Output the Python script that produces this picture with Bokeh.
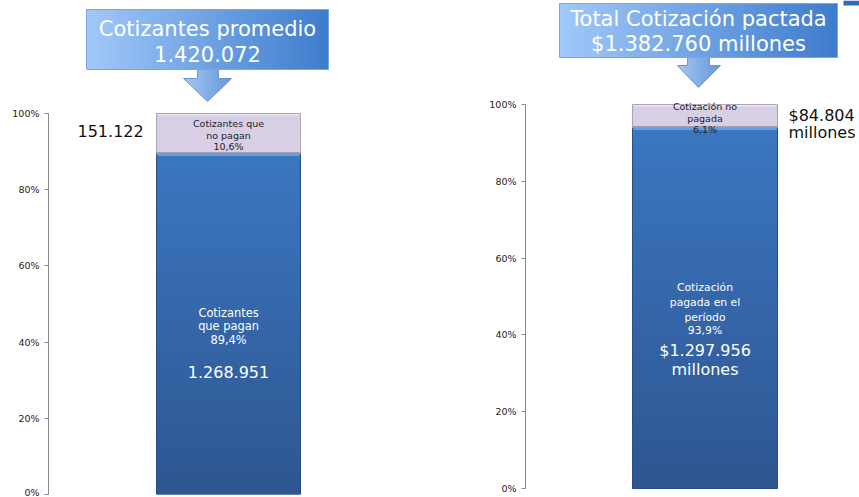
import numpy as np
from bokeh.plotting import figure
from bokeh.layouts import row
from bokeh.models import Range1d, FixedTicker, Label
from bokeh.embed import file_html
from bokeh.resources import INLINE

# ---------------- data ----------------
left_title = "Cotizantes promedio"
left_total = 1420072
left_shares = [0.894, 0.106]          # paga, no paga
left_counts = [1268951, 151122]

right_title = "Total Cotización pactada"
right_total = 1382760                 # millones
right_shares = [0.939, 0.061]         # pagada, no pagada
right_amounts = [1297956, 84804]      # millones

tick_values = [0, 0.2, 0.4, 0.6, 0.8, 1.0]
tick_labels = ["0%", "20%", "40%", "60%", "80%", "100%"]


def fmt_num(n):
    return f"{n:,}".replace(",", ".")


def fmt_pct(v):
    return f"{v * 100:.1f}".replace(".", ",") + "%"


FONT = "DejaVu Sans"
H = 497
BOTTOM_PAD = 3
FRAME_BOTTOM = H - BOTTOM_PAD   # page y of frame bottom


def lerp(c0, c1, t):
    return "#%02x%02x%02x" % tuple(int(round(a + (b - a) * t)) for a, b in zip(c0, c1))


def make_panel(width, frame_left, zero_px, hundred_px):
    scale = (zero_px - hundred_px)  # px per unit
    start = -(FRAME_BOTTOM - zero_px) / scale
    end = start + FRAME_BOTTOM / scale
    p = figure(width=width, height=H, output_backend="svg", toolbar_location=None,
               x_axis_location=None, y_axis_location="left",
               min_border_left=frame_left, min_border_right=0, min_border_top=0,
               min_border_bottom=BOTTOM_PAD,
               x_range=Range1d(0, width - frame_left),
               y_range=Range1d(start, end))
    p.grid.visible = False
    p.outline_line_color = None
    ax = p.yaxis[0]
    ax.ticker = FixedTicker(ticks=tick_values)
    ax.major_label_overrides = {v: l for v, l in zip(tick_values, tick_labels)}
    ax.bounds = (0, 1)
    ax.axis_line_color = "#8a8a8a"
    ax.major_tick_line_color = "#8a8a8a"
    ax.major_tick_out = 4
    ax.major_tick_in = 0
    ax.minor_tick_line_color = None
    ax.major_label_standoff = 5
    ax.major_label_text_font = FONT
    ax.major_label_text_font_size = "9.5px"
    ax.major_label_text_color = "#222222"
    return p, scale


def add_label(p, x, y, text, size, color, align="center"):
    p.add_layout(Label(x=x, y=y, text=text, text_align=align, text_baseline="middle",
                       text_font=FONT, text_font_size=size, text_color=color))


def draw_callout(p, X, Y, box, shaft, head, tip, lines, line_ys, text_cx):
    bx0, by0, bx1, by1 = box
    sx0, sx1 = shaft
    hx0, hx1, hy = head
    tx, ty = tip
    # arrow with gradient strips
    xs = np.arange(hx0, hx1, 1.0)
    half = (hx1 - hx0) / 2.0
    lefts, rights, tops, bottoms, cols = [], [], [], [], []
    for x in xs:
        xc = x + 0.5
        top_px = by1 if (sx0 <= xc <= sx1) else hy
        bot_px = hy + (ty - hy) * max(0.0, 1 - abs(xc - tx) / half)
        lefts.append(X(x)); rights.append(X(x + 1.3))
        tops.append(Y(top_px)); bottoms.append(Y(bot_px))
        cols.append(lerp((155, 193, 243), (84, 138, 212), (xc - hx0) / (hx1 - hx0)))
    p.quad(left=lefts, right=rights, top=tops, bottom=bottoms, fill_color=cols, line_color=None)
    px = [sx0, sx0, hx0, tx, hx1, sx1, sx1]
    py = [by1, hy, hy, ty, hy, hy, by1]
    p.patch([X(v) for v in px], [Y(v) for v in py], fill_color=None,
            line_color="#6b98d6", line_width=1)
    # box with horizontal gradient
    n = int((bx1 - bx0) / 2)
    edges = np.linspace(bx0, bx1, n + 1)
    cols = [lerp((162, 200, 249), (62, 124, 204), (i + 0.5) / n) for i in range(n)]
    rr = [min(e + 0.8, bx1) for e in edges[1:]]
    p.quad(left=[X(e) for e in edges[:-1]], right=[X(e) for e in rr],
           top=Y(by0), bottom=Y(by1), fill_color=cols, line_color=None)
    p.quad(left=X(bx0), right=X(bx1), top=Y(by0), bottom=Y(by1),
           fill_color=None, line_color="#7ba5dd", line_width=1)
    for t, ly in zip(lines, line_ys):
        add_label(p, X(text_cx), Y(ly), t, "21px", "white")


def draw_bar(p, xc, w, shares, v_per_px):
    paid, unpaid = shares
    top_paid = paid
    top_all = paid + unpaid
    # paid segment: base bar plus vertical gradient
    p.vbar(x=[xc], width=w, bottom=[0], top=[top_paid], fill_color="#34669f", line_color=None)
    n = 60
    edges = np.linspace(0, top_paid, n + 1)
    cols = [lerp((46, 86, 144), (59, 118, 193), (i + 0.5) / n) for i in range(n)]
    p.quad(left=xc - w / 2, right=xc + w / 2, bottom=edges[:-1],
           top=[min(e + 0.6 * v_per_px, top_paid) for e in edges[1:]],
           fill_color=cols, line_color=None)
    p.vbar(x=[xc], width=w, bottom=[0], top=[top_paid], fill_color=None,
           line_color="#2b4e80", line_width=1)
    # unpaid segment
    p.vbar(x=[xc], width=w, bottom=[top_paid], top=[top_all], fill_color="#d8cfe5",
           line_color="#aaa4b6", line_width=1)
    p.segment(x0=[xc - w / 2 + 1], x1=[xc + w / 2 - 1], y0=[top_all - 1.2 * v_per_px],
              y1=[top_all - 1.2 * v_per_px], line_color="#ece8f3", line_width=1.5)
    p.segment(x0=[xc - w / 2], x1=[xc + w / 2], y0=[top_paid + 0.8 * v_per_px],
              y1=[top_paid + 0.8 * v_per_px], line_color="#8e8c98", line_width=1.5)
    p.segment(x0=[xc - w / 2 + 1], x1=[xc + w / 2 - 1], y0=[top_paid - 1.2 * v_per_px],
              y1=[top_paid - 1.2 * v_per_px], line_color="#66a3ec", line_width=1.6)


# ---------------- left panel ----------------
L_FRAME_LEFT = 48
pL, sL = make_panel(430, L_FRAME_LEFT, 494, 113)
XL = lambda px: px - L_FRAME_LEFT
YL = lambda py: (494 - py) / sL

draw_bar(pL, XL(228), 144, left_shares, 1.0 / sL)
draw_callout(pL, XL, YL, box=(86, 9, 328, 69), shaft=(197, 218), head=(183, 231, 78),
             tip=(207, 101), lines=[left_title, fmt_num(left_total)], line_ys=[28, 53],
             text_cx=207)

for t, yr in zip(["Cotizantes que", "no pagan", fmt_pct(left_shares[1])], [123, 134.5, 146]):
    add_label(pL, XL(228), YL(yr), t, "9.5px", "#1e1e1e")
for t, yr in zip(["Cotizantes", "que pagan", fmt_pct(left_shares[0])], [312, 325.5, 339]):
    add_label(pL, XL(228), YL(yr), t, "11.4px", "white")
add_label(pL, XL(228), YL(371), fmt_num(left_counts[0]), "16px", "white")
add_label(pL, XL(77), YL(130), fmt_num(left_counts[1]), "16px", "#111111", align="left")

# ---------------- right panel ----------------
R_PAGE_LEFT = 430
R_FRAME_LEFT = 525
pR, sR = make_panel(429, R_FRAME_LEFT - R_PAGE_LEFT, 488, 104)
XR = lambda px: px - R_FRAME_LEFT
YR = lambda py: (488 - py) / sR

draw_bar(pR, XR(704.5), 145, right_shares, 1.0 / sR)
draw_callout(pR, XR, YR, box=(559, 3, 837, 57), shaft=(687, 709), head=(677, 720, 65),
             tip=(698, 87), lines=[right_title, "$" + fmt_num(right_total) + " millones"],
             line_ys=[18, 43], text_cx=698)

for t, yr in zip(["Cotización no", "pagada", fmt_pct(right_shares[1])], [106, 117.5, 129]):
    add_label(pR, XR(704.5), YR(yr), t, "9.5px", "#1e1e1e")
for t, yr in zip(["Cotización", "pagada en el", "período", fmt_pct(right_shares[0])],
                 [287, 302, 317, 330]):
    add_label(pR, XR(704.5), YR(yr), t, "10.8px", "white")
add_label(pR, XR(704.5), YR(350), "$" + fmt_num(right_amounts[0]), "16px", "white")
add_label(pR, XR(704.5), YR(369), "millones", "16px", "white")
add_label(pR, XR(788), YR(115), "$" + fmt_num(right_amounts[1]), "16px", "#111111", align="left")
add_label(pR, XR(788), YR(132), "millones", "16px", "#111111", align="left")

# small decorative corner tab
pR.quad(left=XR(843), right=XR(859), top=YR(0), bottom=YR(5), fill_color="#2f6db5",
        line_color=None)

layout = row(pL, pR)
open("out.html", "w").write(file_html(layout, INLINE))
